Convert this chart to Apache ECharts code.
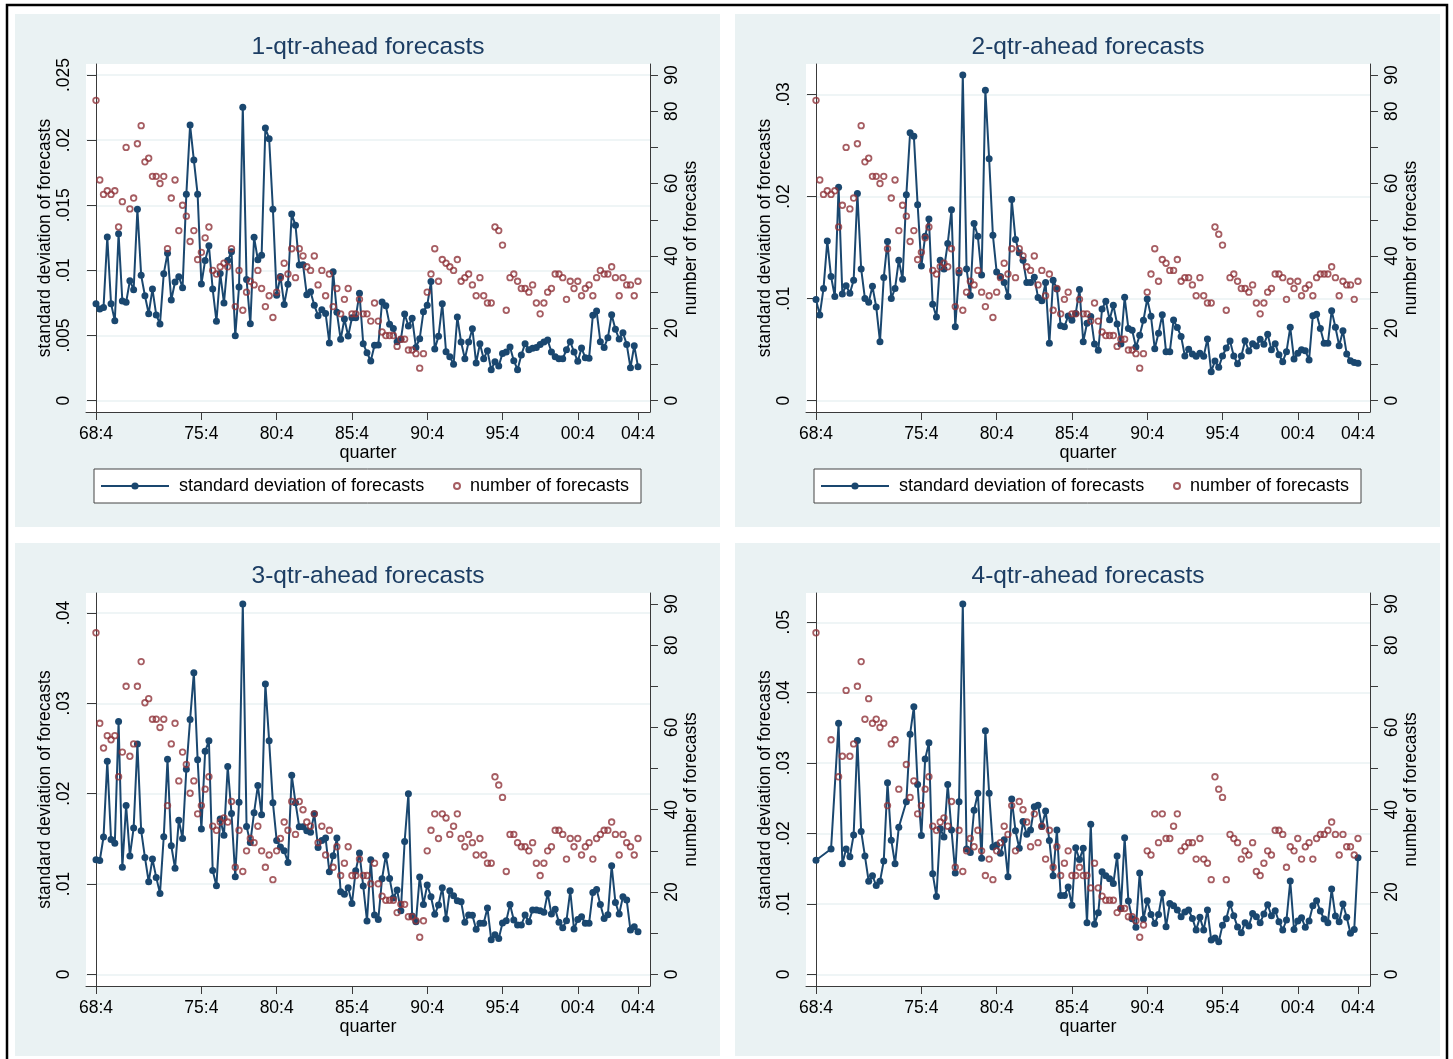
<!DOCTYPE html>
<html><head><meta charset="utf-8">
<script src="https://cdn.jsdelivr.net/npm/echarts@6/dist/echarts.min.js"></script>
<style>html,body{margin:0;padding:0;background:#fff}#c{width:1453px;height:1059px}</style>
</head><body><div id="c"></div><script>
// ---------------- data ----------------
// quarters 1968:4 .. 2004:4
const startYear = 1968, startQ = 4, nQuarters = 145;
const quarters = [];
for (let k = 0; k < nQuarters; k++) {
  const q = startQ - 1 + k;
  const y = startYear + Math.floor(q / 4);
  quarters.push(String(y % 100).padStart(2, '0') + ':' + (q % 4 + 1));
}
const xTickLabels = ['68:4', '75:4', '80:4', '85:4', '90:4', '95:4', '00:4', '04:4'];
const titles = ['1-qtr-ahead forecasts', '2-qtr-ahead forecasts', '3-qtr-ahead forecasts', '4-qtr-ahead forecasts'];
const leftTicks1 = [0, 0.005, 0.01, 0.015, 0.02, 0.025];
const leftTicks2 = [0, 0.01, 0.02, 0.03];
const leftTicks3 = [0, 0.01, 0.02, 0.03, 0.04];
const leftTicks4 = [0, 0.01, 0.02, 0.03, 0.04, 0.05];
const rightTicks = [0, 10, 20, 30, 40, 50, 60, 70, 80, 90];
const rightLabels = [0, 20, 40, 60, 80, 90];
const seriesNames = ['standard deviation of forecasts', 'number of forecasts'];

const sd1 = [
 .00745,.00704,.00716,.01256,.00745,.00614,.01282,.00765,.00755,.00921,
 .00852,.01469,.00962,.00806,.00668,.00857,.00658,.00589,.00975,.01131,
 .00773,.00911,.00952,.00867,.01584,.02116,.01847,.01584,.00896,.01077,
 .0119,.00857,.00609,.00977,.0075,.01077,.01144,.00499,.00873,.02252,
 .00931,.00591,.01254,.01082,.01116,.02093,.02011,.01469,.00809,.00954,
 .00739,.00893,.01433,.01346,.01041,.01044,.00814,.00837,.00732,.00653,
 .00699,.0067,.00443,.0099,.00678,.00471,.00627,.00496,.00637,.00637,
 .00824,.00438,.00368,.00305,.00425,.00427,.00757,.00729,.00586,.00555,
 .00453,.00471,.00665,.00573,.00632,.00409,.00476,.00683,.00732,.00914,
 .00397,.00494,.00745,.00376,.00338,.00279,.00642,.0045,.00322,.0045,
 .00553,.00289,.00438,.00322,.00384,.00238,.00299,.00266,.00363,.00374,
 .00412,.00307,.00238,.00351,.00438,.00392,.00402,.00409,.00432,.0045,
 .00466,.00374,.00338,.00322,.00322,.00392,.00453,.00374,.00302,.00404,
 .0033,.00325,.00655,.00688,.00453,.00409,.00484,.0066,.00548,.00473,
 .00522,.00432,.00253,.00422,.00261];
const cnt1 = [
 83,61,57,58,57,58,48,55,70,53, 56,71,76,66,67,62,62,60,62,42,
 56,61,47,54,51,44,47,39,41,45, 48,36,35,37,38,37,42,26,36,25,
 30,33,32,36,31,26,29,23,30,34, 38,35,42,34,42,40,37,36,40,32,
 36,29,35,26,31,24,28,31,24,24, 28,24,24,22,27,22,19,18,18,18,
 15,17,17,14,14,13,9,13,30,35, 42,33,39,38,37,36,39,33,34,35,
 32,29,34,29,27,27,48,47,43,25, 34,35,33,31,31,30,32,27,24,27,
 30,31,35,35,34,28,33,31,33,29, 31,32,29,34,36,35,35,37,34,29,
 34,32,32,29,33];
const sd2 = [
 .0099,.0084,.011,.01565,.01216,.0102,.0209,.01046,.01127,.01052,
 .0118,.0203,.0129,.01,.00964,.0112,.00918,.00578,.01206,.0156,
 .01,.011,.01376,.0119,.02016,.02624,.0259,.0192,.0132,.0161,
 .0178,.00944,.0082,.01376,.0129,.0154,.0187,.00725,.0125,.0319,
 .0129,.0103,.01735,.0161,.0123,.0304,.0237,.0162,.0126,.01216,
 .01157,.0102,.0197,.0158,.0145,.01376,.01157,.01157,.0121,.0101,
 .0098,.01157,.00562,.0118,.01095,.00735,.00725,.0083,.00788,.00853,
 .0109,.00578,.00758,.00824,.00556,.00493,.00899,.00974,.00794,.00935,
 .00752,.00556,.01013,.00706,.0069,.00526,.0064,.00788,.00997,.00827,
 .0051,.0066,.00843,.0048,.0048,.0079,.00716,.0063,.00438,.00503,
 .00458,.00435,.00464,.00435,.00605,.00284,.00389,.00327,.00438,.00516,
 .00585,.00438,.00363,.00438,.00588,.00487,.00559,.00536,.00601,.00552,
 .0065,.005,.00559,.00451,.00382,.0048,.00719,.00408,.00464,.005,
 .0049,.00399,.00833,.00846,.00706,.00562,.00562,.00882,.00719,.00539,
 .00686,.00458,.00392,.00373,.00366];
const cnt2 = [
 83,61,57,58,57,58,48,54,70,53, 56,71,76,66,67,62,62,60,62,42,
 56,61,47,54,51,44,47,39,41,45, 48,36,35,37,38,37,42,26,36,25,
 30,33,32,36,30,26,29,23,30,34, 38,35,42,34,42,40,37,36,40,32,
 36,29,35,25,31,24,28,30,24,24, 28,24,24,22,27,22,19,18,18,18,
 15,17,17,14,14,13,9,13,30,35, 42,33,39,38,36,36,39,33,34,34,
 32,29,34,29,27,27,48,46,43,25, 34,35,33,31,31,30,32,27,24,27,
 30,31,35,35,34,28,33,31,33,29, 31,32,29,34,35,35,35,37,34,29,
 33,32,32,28,33];
const sd3 = [
 .01268,.0126,.0152,.0236,.01493,.0145,.028,.01184,.0187,.0131,
 .0162,.0255,.0159,.01294,.01025,.01276,.01073,.00896,.01523,.0238,
 .01423,.01173,.01707,.01504,.0227,.0282,.0334,.02375,.01608,.0247,
 .02585,.0115,.0098,.0172,.0154,.023,.0178,.0108,.01906,.041,
 .01637,.0146,.0179,.0209,.01766,.03215,.02585,.019,.01482,.01409,
 .01368,.01239,.02205,.019,.01633,.01633,.0159,.01574,.01777,.01405,
 .01482,.01508,.01136,.01313,.01508,.00914,.00885,.00959,.00785,.01147,
 .01342,.00977,.0059,.01268,.00656,.00608,.01058,.01316,.01062,.00844,
 .00933,.00704,.01471,.01999,.00645,.00583,.01077,.00774,.00988,.00859,
 .00664,.00767,.00959,.00612,.00925,.0087,.00815,.00804,.00575,.00656,
 .00653,.00498,.00564,.00564,.00734,.00383,.00439,.00395,.00568,.00594,
 .00774,.00601,.00546,.00546,.00656,.00583,.00712,.00712,.00704,.00686,
 .00896,.00667,.00719,.00575,.00516,.00594,.00925,.00501,.00608,.00638,
 .00564,.00564,.00907,.0094,.00774,.00619,.0066,.01202,.00796,.00667,
 .00859,.00822,.0049,.00527,.00472];
const cnt3 = [
 83,61,55,58,57,58,48,54,70,53, 56,70,76,66,67,62,62,60,62,41,
 56,61,47,54,51,44,47,39,41,45, 48,36,35,37,38,37,42,26,35,25,
 30,33,32,36,30,26,29,23,30,33, 37,35,42,34,42,40,37,36,39,32,
 36,29,35,26,31,24,27,31,24,24, 28,24,24,22,27,22,19,18,18,18,
 15,17,17,14,14,13,9,13,30,35, 39,33,39,38,34,36,39,33,31,34,
 32,29,33,29,27,27,48,46,43,25, 34,34,32,31,31,30,32,27,24,27,
 30,31,35,35,34,28,33,31,33,29, 31,32,28,33,34,35,35,37,34,29,
 34,32,31,29,33];
const sd4 = [
 .0162,null,null,null,.0178,null,.03565,.0157,.0178,.0167,
 .0198,.0332,.0203,.0168,.0132,.014,.0126,.0132,.0161,.0272,
 .01905,.0157,.0209,null,.0245,.0341,.038,.02695,.0197,.0306,
 .0329,.0143,.01106,.0207,.0195,.02695,.0205,.0144,.0245,.0526,
 .0178,.0173,.0233,.0257,.0165,.0346,.0257,.0181,.01835,.0172,
 .0191,.01385,.0249,.0204,.0179,.0217,.0199,.0205,.0238,.024,
 .021,.0232,.019,.014,.0205,.0112,.0112,.0124,.0098,.01797,
 .0163,.0179,.00733,.0213,.0071,.00875,.01456,.014,.01357,.0129,
 .0168,.00936,.0194,.0104,.0079,.00667,.0144,.00785,.01045,.0085,
 .00723,.0085,.0115,.00676,.01007,.00974,.00913,.00818,.00884,.00913,
 .00794,.00629,.00809,.00629,.00913,.00487,.00515,.00463,.00695,.0079,
 .00998,.00832,.00671,.00591,.00733,.00686,.00865,.00818,.00733,.00856,
 .00988,.00832,.00903,.00747,.00629,.00771,.01324,.00638,.00757,.00804,
 .00667,.00757,.00974,.01045,.00898,.00785,.00733,.0121,.00827,.00747,
 .00998,.00809,.00582,.00638,.01655];
const cnt4 = [
 83,null,null,null,57,null,48,53,69,53, 56,70,76,62,67,61,62,60,61,41,
 56,57,45,null,51,43,47,39,41,45, 48,36,35,37,38,36,42,26,35,25,
 30,33,31,35,30,24,28,23,30,32, 36,34,41,30,42,40,37,31,39,32,
 36,28,35,26,31,24,27,30,24,24, 26,24,24,21,27,21,19,18,18,18,
 15,16,16,14,14,13,9,12,30,29, 39,32,39,33,33,36,39,30,31,32,
 32,28,33,28,27,23,48,45,43,23, 34,33,32,28,30,29,32,25,24,27,
 30,29,35,35,34,26,31,30,33,28, 31,32,28,33,34,34,35,37,34,29,
 34,31,31,29,33];

// ---------------- style / layout ----------------
const NAVY = '#1a476f', MAROON = '#90353b', BG = '#eaf2f3', AX = '#3a3a3a';
const FONT = "'Liberation Sans', Arial, sans-serif";
const FS = 17.5;
const panels = [
  {ox: 0,   oy: 0,   sd: sd1, cnt: cnt1, lt: leftTicks1, legend: true,  pTop: 64,  pBot: 412, dTop: 75,  dBot: 400.7},
  {ox: 720, oy: 0,   sd: sd2, cnt: cnt2, lt: leftTicks2, legend: true,  pTop: 64,  pBot: 412, dTop: 75,  dBot: 400.7},
  {ox: 0,   oy: 529, sd: sd3, cnt: cnt3, lt: leftTicks3, legend: false, pTop: 64,  pBot: 457, dTop: 75,  dBot: 445.3},
  {ox: 720, oy: 529, sd: sd4, cnt: cnt4, lt: leftTicks4, legend: false, pTop: 64,  pBot: 457, dTop: 75,  dBot: 445.3}
];
const PL = 86, PR = 650, X0 = 96, X1 = 638;

function ext(vmin, vmax, dTop, dBot, gTop, gBot) {
  const k = (vmax - vmin) / (dBot - dTop);
  return {min: vmin - (gBot - dBot) * k, max: vmax + (dTop - gTop) * k};
}
const fmtLeft = v => { const r = Math.round(v * 1000) / 1000; return r === 0 ? '0' : String(r).replace(/^0/, ''); };
const xTickPos = xTickLabels.map(l => quarters.indexOf(l));

const grid = [], xAxis = [], yAxis = [], series = [], legend = [], graphic = [];
graphic.push({type: 'rect', shape: {x: 7, y: 5, width: 1440, height: 1070}, style: {fill: 'none', stroke: '#000', lineWidth: 2.5}, z: 10});

panels.forEach((p, n) => {
  const gTop = p.pTop + p.oy, gBot = p.pBot + p.oy;
  graphic.push({type: 'rect', shape: {x: 15 + p.ox, y: 14 + p.oy, width: 705, height: 513}, style: {fill: BG}, z: -10});
  graphic.push({type: 'rect', shape: {x: PL + p.ox, y: gTop, width: PR - PL, height: gBot - gTop}, style: {fill: '#fff'}, z: -9});
  graphic.push({type: 'text', x: (PL + PR) / 2 + p.ox, y: 47.5 + p.oy, z: 5,
    style: {text: titles[n], font: "24.5px " + FONT, fill: '#1c3d63', align: 'center', verticalAlign: 'middle'}});
  grid.push({left: PL + p.ox, top: gTop, width: PR - PL, height: gBot - gTop, containLabel: false});
  const kx = (nQuarters - 1) / (X1 - X0);
  xAxis.push({type: 'value', gridIndex: n, min: -(X0 - PL) * kx, max: (nQuarters - 1) + (PR - X1) * kx,
    name: 'quarter', nameLocation: 'middle', nameGap: 30,
    nameTextStyle: {fontFamily: FONT, fontSize: 18, color: '#000'},
    axisLine: {show: true, onZero: false, lineStyle: {color: AX, width: 1}},
    axisTick: {show: true, length: 8, lineStyle: {color: AX}, customValues: xTickPos},
    axisLabel: {show: true, margin: 13, fontFamily: FONT, fontSize: FS, color: '#000', customValues: xTickPos,
      formatter: v => quarters[Math.round(v)]},
    splitLine: {show: false}});
  const lMax = Math.max(p.lt[p.lt.length - 1], Math.max(...p.sd.filter(v => v != null)));
  const le = ext(0, lMax, p.dTop + p.oy, p.dBot + p.oy, gTop, gBot);
  yAxis.push({type: 'value', gridIndex: n, position: 'left', min: le.min, max: le.max,
    name: seriesNames[0], nameLocation: 'middle', nameGap: 32,
    nameTextStyle: {fontFamily: FONT, fontSize: FS, color: '#000'},
    axisLine: {show: true, lineStyle: {color: AX, width: 1}},
    axisTick: {show: true, length: 9, lineStyle: {color: AX}, customValues: p.lt},
    axisLabel: {show: true, rotate: 90, margin: 13, fontFamily: FONT, fontSize: FS, color: '#000', customValues: p.lt, formatter: fmtLeft},
    splitLine: {show: true, lineStyle: {color: BG, width: 1.5}}});
  const rMax = Math.max(rightTicks[rightTicks.length - 1], Math.max(...p.cnt.filter(v => v != null)));
  const re = ext(0, rMax, p.dTop + p.oy, p.dBot + p.oy, gTop, gBot);
  yAxis.push({type: 'value', gridIndex: n, position: 'right', min: re.min, max: re.max,
    name: seriesNames[1], nameLocation: 'middle', nameGap: 28,
    nameTextStyle: {fontFamily: FONT, fontSize: FS, color: '#000'},
    axisLine: {show: true, lineStyle: {color: AX, width: 1}},
    axisTick: {show: true, length: 8, lineStyle: {color: AX}, customValues: rightTicks},
    axisLabel: {show: true, rotate: 90, margin: 13, fontFamily: FONT, fontSize: FS, color: '#000', customValues: rightLabels},
    splitLine: {show: false}});
  series.push({type: 'line', name: seriesNames[0], xAxisIndex: n, yAxisIndex: 2 * n,
    data: p.sd.map((v, i) => [i, v]), connectNulls: true, showAllSymbol: true,
    symbol: 'circle', symbolSize: 7, lineStyle: {color: NAVY, width: 2}, itemStyle: {color: NAVY},
    z: 2, animation: false, silent: true});
  series.push({type: 'scatter', name: seriesNames[1], xAxisIndex: n, yAxisIndex: 2 * n + 1,
    data: p.cnt.map((v, i) => [i, v]).filter(d => d[1] != null),
    symbol: 'circle', symbolSize: 5.6, itemStyle: {color: 'rgba(255,255,255,0)', borderColor: MAROON, borderWidth: 1.8},
    z: 3, animation: false, silent: true});
  if (p.legend) {
    graphic.push({type: 'rect', shape: {x: 94 + p.ox, y: 469, width: 547, height: 34}, style: {fill: '#fff', stroke: '#444', lineWidth: 1}, z: -8});
    legend.push({data: [seriesNames[0]], left: 100 + p.ox, top: 477, padding: 0, itemWidth: 68, itemHeight: 9,
      selectedMode: false, textStyle: {fontFamily: FONT, fontSize: 18, color: '#000', padding: [0, 0, 0, 5]}});
    legend.push({data: [seriesNames[1]], left: 453 + p.ox, top: 477, padding: 0, itemWidth: 6, itemHeight: 6,
      selectedMode: false, textStyle: {fontFamily: FONT, fontSize: 18, color: '#000', padding: [0, 0, 0, 5]}});
  }
});

const chart = echarts.init(document.getElementById('c'), null, {renderer: 'canvas'});
chart.setOption({backgroundColor: '#fff', animation: false, grid, xAxis, yAxis, series, legend, graphic});
</script></body></html>
